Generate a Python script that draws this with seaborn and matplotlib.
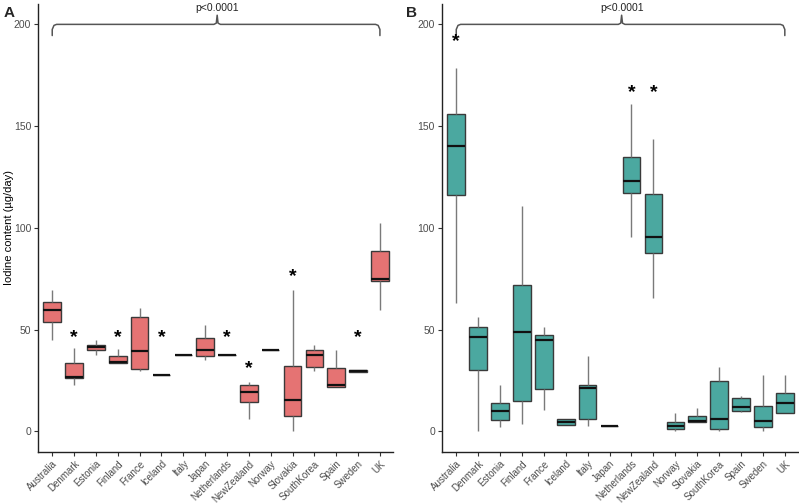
import numpy as np
import pandas as pd
import matplotlib
matplotlib.use("Agg")
import matplotlib.pyplot as plt
import seaborn as sns

countries = ["Australia", "Denmark", "Estonia", "Finland", "France", "Iceland", "Italy",
             "Japan", "Netherlands", "NewZealand", "Norway", "Slovakia", "SouthKorea",
             "Spain", "Sweden", "UK"]

# Panel A five-number summaries (µg/day)
a_low = [45.0, 22.7, 37.4, 33.8, 29.9, 27.8, 37.3, 35.1, 37.3, 6.2, 40.0, 0.3, 29.9, 21.6, 29.2, 59.8]
a_q1 = [53.8, 26.3, 39.9, 33.8, 30.7, 27.8, 37.3, 37.1, 37.3, 14.4, 40.0, 7.5, 31.5, 21.6, 29.2, 73.7]
a_med = [59.8, 26.6, 41.3, 34.3, 39.3, 27.8, 37.3, 40.0, 37.3, 19.1, 40.0, 15.2, 37.6, 22.7, 29.6, 74.7]
a_q3 = [63.4, 33.5, 42.5, 37.1, 56.2, 27.8, 37.3, 45.7, 37.3, 22.9, 40.0, 32.2, 40.2, 31.0, 30.3, 88.6]
a_high = [69.6, 41.0, 45.0, 40.7, 60.6, 27.8, 37.3, 52.1, 37.3, 24.2, 40.0, 69.6, 42.5, 40.0, 30.3, 102.4]

# Panel B five-number summaries (µg/day)
b_low = [63.2, 0.3, 2.3, 3.4, 10.5, 3.3, 2.6, 2.5, 95.4, 65.4, 0.3, 4.8, 0.3, 9.5, 0.3, 9.0]
b_q1 = [116.3, 30.2, 5.4, 14.9, 21.0, 3.3, 6.1, 2.5, 117.1, 87.8, 1.0, 4.8, 1.3, 10.2, 2.3, 9.0]
b_med = [140.0, 46.6, 10.0, 48.6, 44.7, 4.6, 21.3, 2.5, 123.2, 95.4, 2.6, 4.9, 6.1, 11.8, 5.3, 14.1]
b_q3 = [156.0, 51.1, 13.8, 71.9, 47.4, 6.2, 23.0, 2.5, 134.6, 116.7, 4.8, 7.7, 24.5, 16.3, 12.6, 18.6]
b_high = [178.7, 56.3, 23.0, 110.5, 51.1, 6.2, 37.0, 2.5, 160.9, 143.8, 9.0, 11.7, 31.4, 17.2, 27.9, 27.9]

a_star_countries = ["Denmark", "Finland", "Iceland", "Netherlands", "NewZealand", "Slovakia", "Sweden"]
a_star_y = [46, 46, 46, 46, 31, 76, 46]
b_star_countries = ["Australia", "Netherlands", "NewZealand"]
b_star_y = [191.5, 166.7, 166.7]

p_label = "p<0.0001"
y_label = "Iodine content (µg/day)"
color_a = "#E57373"
color_b = "#4BA8A0"


def long_frame(lo, q1, md, q3, hi):
    rows = []
    for i, c in enumerate(countries):
        for v in (lo[i], q1[i], md[i], q3[i], hi[i]):
            rows.append({"country": c, "value": v})
    return pd.DataFrame(rows)


sns.set_theme(style="ticks")
plt.rcParams["font.family"] = ["Liberation Sans", "DejaVu Sans"]

fig = plt.figure(figsize=(7.99, 5.03), dpi=100)
axA = fig.add_axes([0.0476, 0.102, 0.4443, 0.890])
axB = fig.add_axes([0.5532, 0.102, 0.4455, 0.890])

panels = [
    (axA, long_frame(a_low, a_q1, a_med, a_q3, a_high), color_a, a_star_countries, a_star_y),
    (axB, long_frame(b_low, b_q1, b_med, b_q3, b_high), color_b, b_star_countries, b_star_y),
]

for ax, df, col, sc, sy in panels:
    sns.boxplot(data=df, x="country", y="value", order=countries, color=col, saturation=1,
                whis=(0, 100), width=0.8, showcaps=False, showfliers=False, ax=ax,
                boxprops=dict(edgecolor="#3a3a3a", linewidth=1.0),
                whiskerprops=dict(color="#7a7a7a", linewidth=1.0),
                medianprops=dict(color="#111111", linewidth=1.6))
    for c, yv in zip(sc, sy):
        ax.text(countries.index(c), yv, "*", ha="center", va="center", fontsize=14,
                fontweight="bold", color="black")
    # bracket
    n = len(countries) - 1
    mid = n / 2 + 0.05
    xs = [0, 0, 0.08, 0.2, mid - 0.15, mid - 0.04, mid, mid + 0.04, mid + 0.15, n - 0.2, n - 0.08, n, n]
    ys = [194.5, 197.5, 199.5, 200, 200, 200.6, 204.5, 200.6, 200, 200, 199.5, 197.5, 194.5]
    ax.plot(xs, ys, color="#555555", lw=1.1, clip_on=False)
    ax.text(mid, 210.6, p_label, ha="center", va="top", fontsize=7.5, color="#222222")

    ax.set_xlim(-0.65, 15.6)
    ax.set_ylim(-10, 210)
    ax.set_yticks([0, 50, 100, 150, 200])
    ax.set_xlabel("")
    ax.set_ylabel("")
    for s in ["top", "right"]:
        ax.spines[s].set_visible(False)
    for s in ["left", "bottom"]:
        ax.spines[s].set_color("#222222")
        ax.spines[s].set_linewidth(1.0)
    ax.tick_params(axis="both", length=3, width=0.8, color="#333333", labelsize=7.5,
                   labelcolor="#4D4D4D", pad=2)
    plt.setp(ax.get_xticklabels(), rotation=45, ha="right", rotation_mode="anchor", fontsize=7)

axA.set_ylabel(y_label, fontsize=8, color="black")
axA.yaxis.set_label_coords(-0.068, 0.5)
fig.text(0.004, 0.975, "A", fontsize=11, fontweight="bold", ha="left", va="center")
fig.text(0.508, 0.975, "B", fontsize=11, fontweight="bold", ha="left", va="center")

fig.savefig("out.png", dpi=100)
